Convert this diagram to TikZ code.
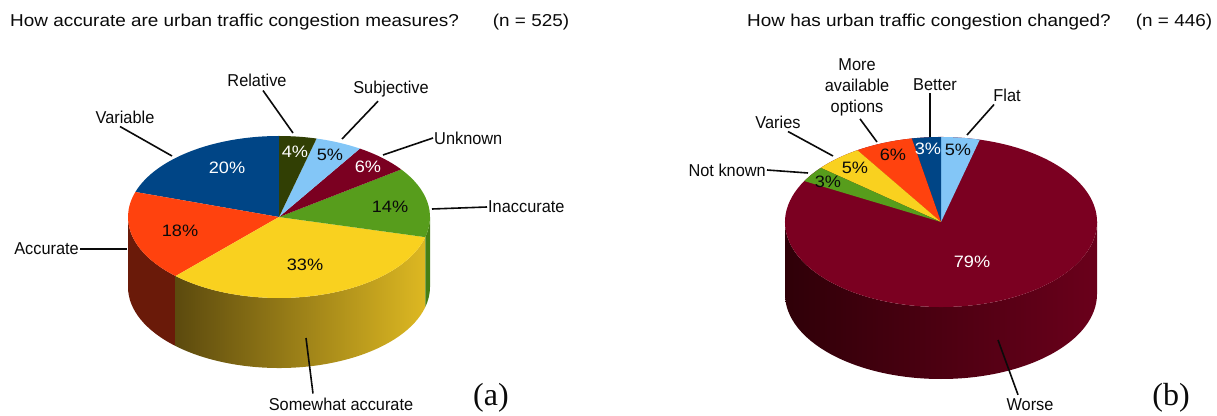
\documentclass[tikz,border=0pt]{standalone}
\usepackage{fontspec}
\setmainfont{Liberation Sans}
\newfontfamily\titlefont{Liberation Sans}[FakeStretch=1.1]
\newfontfamily\labelfont{Liberation Sans}[FakeStretch=0.95]
\newfontfamily\pctfont{Liberation Sans}[FakeStretch=1.1]
\newfontfamily\tagfont{Liberation Serif}
\usetikzlibrary{calc}

% chart palette
\definecolor{cBlue}{HTML}{004586}
\definecolor{cOrange}{HTML}{FF420E}
\definecolor{cYellow}{HTML}{F9D11F}
\definecolor{cGreen}{HTML}{579D1C}
\definecolor{cRed}{HTML}{7B0021}
\definecolor{cSky}{HTML}{83C6F7}
\definecolor{cOlive}{HTML}{313F04}
% side walls
\definecolor{wOrange}{HTML}{6A1A09}
\definecolor{wGreen}{HTML}{457F15}
\definecolor{wYelA}{HTML}{5C4A0E}
\definecolor{wYelB}{HTML}{A3841B}
\definecolor{wYelC}{HTML}{DDB822}
\definecolor{wRedA}{HTML}{2F0008}
\definecolor{wRedB}{HTML}{42000F}
\definecolor{wRedC}{HTML}{6A001B}
\definecolor{ink}{HTML}{0A0A0A}

\begin{document}
\begin{tikzpicture}[x=1pt,y=1pt,
  ttl/.style={font=\titlefont\fontsize{17.2}{20}\selectfont, text=ink, inner sep=0pt},
  lbl/.style={font=\labelfont\fontsize{17.2}{21}\selectfont, text=ink, inner sep=1pt},
  pct/.style={font=\pctfont\fontsize{16.5}{18}\selectfont, inner sep=0pt},
  lead/.style={line width=1.6pt, ink},
  tag/.style={font=\tagfont\fontsize{32}{36}\selectfont, text=ink, inner sep=0pt}]
\useasboundingbox (0,0) rectangle (1217,415);

% ---------- pie (a) ----------
\def\rx{151pt }\def\ry{81pt }
\coordinate (A) at (279,198);
% front walls
\fill[wOrange] ($(A)+(180:\rx and \ry)$) arc[start angle=180,end angle=226.8,x radius=\rx,y radius=\ry]
  -- ++(0,-70) arc[start angle=226.8,end angle=180,x radius=\rx,y radius=\ry] -- cycle;
\shade[left color=wYelA, middle color=wYelB, right color=wYelC]
  ($(A)+(226.8:\rx and \ry)$) arc[start angle=226.8,end angle=345.6,x radius=\rx,y radius=\ry]
  -- ++(0,-70) arc[start angle=345.6,end angle=226.8,x radius=\rx,y radius=\ry] -- cycle;
\fill[wGreen] ($(A)+(345.6:\rx and \ry)$) arc[start angle=345.6,end angle=360,x radius=\rx,y radius=\ry]
  -- ++(0,-70) arc[start angle=360,end angle=345.6,x radius=\rx,y radius=\ry] -- cycle;
% top face
\foreach \s/\e/\c in {90/162/cBlue, 162/226.8/cOrange, 226.8/345.6/cYellow,
                      -14.4/36/cGreen, 36/57.6/cRed, 57.6/75.6/cSky, 75.6/90/cOlive}
  \fill[\c] (A) -- ($(A)+(\s:\rx and \ry)$) arc[start angle=\s,end angle=\e,x radius=\rx,y radius=\ry] -- cycle;

\node[pct, text=white] (qVariable) at (227,247) {20\%};
\node[pct, text=ink]   (qAccurate) at (180,184) {18\%};
\node[pct, text=white] (qRelative) at (295,263) {4\%};
\node[pct, text=ink]   (qSubjective) at (330,260) {5\%};
\node[pct, text=white] (qUnknown) at (368,248) {6\%};
\node[pct, text=ink]   (qInaccurate) at (390,208) {14\%};
\node[pct, text=ink]   (qSomewhat) at (305,150) {33\%};

\node[lbl] (lVariable) at (125,298) {Variable};
\node[lbl] (lRelative) at (257,335) {Relative};
\node[lbl] (lSubjective) at (391,326) {Subjective};
\node[lbl, anchor=west] (lUnknown) at (433,277) {Unknown};
\node[lbl, anchor=west] (lInaccurate) at (487,208) {Inaccurate};
\node[lbl, anchor=east] (lAccurate) at (80,166) {Accurate};
\node[lbl] (lSomewhat) at (341,11) {Somewhat accurate};

\coordinate (pVariable) at (172,259);
\coordinate (pRelative) at (293,282);
\coordinate (pSubjective) at (342,276);
\coordinate (pUnknown) at (383,260);
\coordinate (pInaccurate) at (432,206);
\coordinate (pAccurate) at (127,166);
\coordinate (pSomewhat) at (306,77);

\draw[lead] ([shift={(-5,-2)}]lVariable.south) -- (pVariable);
\draw[lead] ([shift={(6,-3)}]lRelative.south) -- (pRelative);
\draw[lead] ([shift={(-13,-3)}]lSubjective.south) -- (pSubjective);
\draw[lead] (lUnknown.west) -- (pUnknown);
\draw[lead] (lInaccurate.west) -- (pInaccurate);
\draw[lead] (lAccurate.east) -- (pAccurate);
\draw[lead] ([shift={(-28,3)}]lSomewhat.north) -- (pSomewhat);

\node[ttl, anchor=west] (tA) at (10,393) {How accurate are urban traffic congestion measures?};
\node[ttl] (nA) at (531,393) {(n = 525)};
\node[tag] (gA) at (491,17) {(a)};

% ---------- pie (b) ----------
\def\rxb{156pt }\def\ryb{85pt }
\coordinate (B) at (941,193);
\shade[left color=wRedA, middle color=wRedB, right color=wRedC]
  ($(B)+(180:\rxb and \ryb)$) arc[start angle=180,end angle=360,x radius=\rxb,y radius=\ryb]
  -- ++(0,-72) arc[start angle=360,end angle=180,x radius=\rxb,y radius=\ryb] -- cycle;
\foreach \s/\e/\c in {-284.4/75.6/cRed, 75.6/90/cSky, 90/100.8/cBlue, 100.8/122.4/cOrange,
                      122.4/140.4/cYellow, 140.4/151.2/cGreen}
  \fill[\c] (B) -- ($(B)+(\s:\rxb and \ryb)$) arc[start angle=\s,end angle=\e,x radius=\rxb,y radius=\ryb] -- cycle;

\node[pct, text=white] (qBetter) at (928,266) {3\%};
\node[pct, text=ink]   (qFlat) at (958,265) {5\%};
\node[pct, text=ink]   (qMore) at (893,260) {6\%};
\node[pct, text=ink]   (qVaries) at (855,247) {5\%};
\node[pct, text=ink]   (qNotKnown) at (828,233) {3\%};
\node[pct, text=white] (qWorse) at (972,153) {79\%};

\node[lbl, anchor=east] (lNotKnown) at (767,245) {Not known};
\node[lbl] (lVaries) at (778,293) {Varies};
\node[lbl, align=center] (lMore) at (857,328) {More\\available\\options};
\node[lbl] (lBetter) at (935,330) {Better};
\node[lbl] (lFlat) at (1007,320) {Flat};
\node[lbl] (lWorse) at (1030,10) {Worse};

\coordinate (pNotKnown) at (808,242);
\coordinate (pVaries) at (833,259);
\coordinate (pMore) at (877,273);
\coordinate (pBetter) at (930,278);
\coordinate (pFlat) at (967,280);
\coordinate (pWorse) at (998,75);

\draw[lead] (lNotKnown.east) -- (pNotKnown);
\draw[lead] ([shift={(10,-2)}]lVaries.south) -- (pVaries);
\draw[lead] ([shift={(3,-2)}]lMore.south) -- (pMore);
\draw[lead] ([shift={(-5,-1)}]lBetter.south) -- (pBetter);
\draw[lead] ([shift={(-13,-2)}]lFlat.south) -- (pFlat);
\draw[lead] ([shift={(-12,3)}]lWorse.north) -- (pWorse);

\node[ttl, anchor=west] (tB) at (747,393) {How has urban traffic congestion changed?};
\node[ttl] (nB) at (1174,393) {(n = 446)};
\node[tag] (gB) at (1171,17) {(b)};
\end{tikzpicture}
\end{document}
